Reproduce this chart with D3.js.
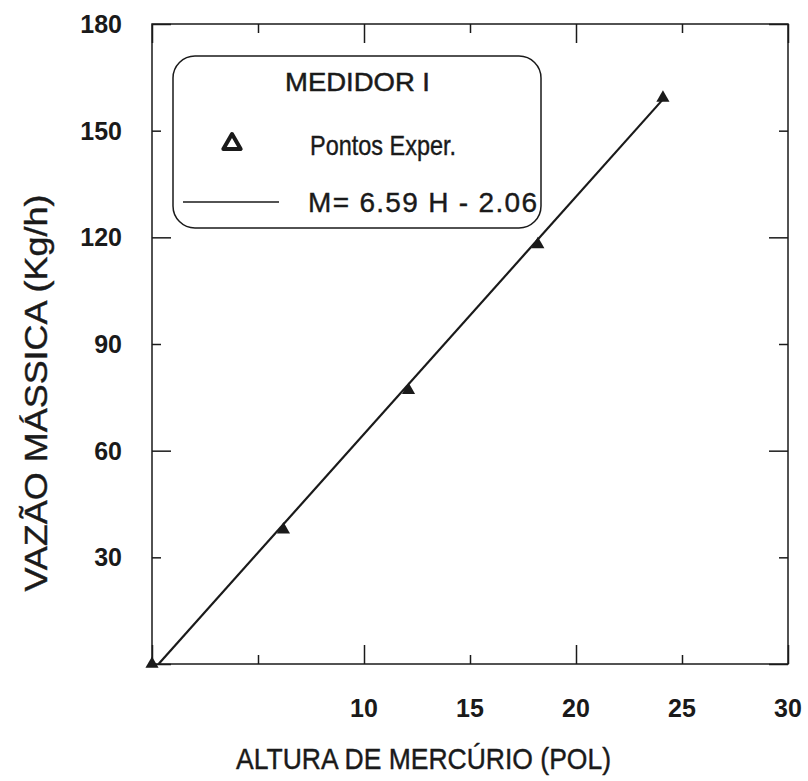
<!DOCTYPE html>
<html>
<head>
<meta charset="utf-8">
<script src="https://cdn.jsdelivr.net/npm/d3@7"></script>
<style>
  body { margin: 0; background: #fff; }
  svg { display: block; font-family: "Liberation Sans", Arial, sans-serif; }
</style>
</head>
<body>
<svg id="chart" width="808" height="781"></svg>
<script>
// ---- data ----
const pointsH = [0, 6.2, 12.1, 18.2, 24.1];
const pointsM = [0, 37.8, 77.0, 118.0, 159.2];
const fitH = [0.31, 24.1];
const fitM = [0, 158.8];
const xTicks = [0, 5, 10, 15, 20, 25, 30];
const xMajor = [0, 10, 20, 30];
const xLabels = [10, 15, 20, 25, 30];
const yTicks = [0, 30, 60, 90, 120, 150, 180];
const yMajor = [0, 60, 120, 180];
const yLabels = [30, 60, 90, 120, 150, 180];
const legendTitle = "MEDIDOR I";
const legendPoints = "Pontos Exper.";
const legendLine = "M= 6.59 H - 2.06";
const xTitle = "ALTURA DE MERCÚRIO (POL)";
const yTitle = "VAZÃO MÁSSICA (Kg/h)";

// ---- layout ----
const svg = d3.select("#chart");
const L = 152, R = 788, T = 24, B = 664;
const x = d3.scaleLinear().domain([0, 30]).range([L, R]);
const y = d3.scaleLinear().domain([0, 180]).range([B, T]);
const ink = "#1a1a1a";
const majorLen = 19, minorLen = 9;

// frame
svg.append("rect").attr("x", L).attr("y", T).attr("width", R - L).attr("height", B - T)
  .attr("fill", "none").attr("stroke", ink).attr("stroke-width", 1.5);

function styleAxis(g) {
  g.select(".domain").remove();
  g.selectAll(".tick text").remove();
  g.selectAll(".tick line").attr("stroke", ink).attr("stroke-width", 1.5);
  return g;
}

const gB = svg.append("g").attr("transform", `translate(0,${B})`)
  .call(d3.axisBottom(x).tickValues(xTicks).tickFormat(""));
gB.selectAll(".tick line").attr("y2", d => -(xMajor.includes(d) ? majorLen : minorLen));
styleAxis(gB);
const gT = svg.append("g").attr("transform", `translate(0,${T})`)
  .call(d3.axisTop(x).tickValues(xTicks).tickFormat(""));
gT.selectAll(".tick line").attr("y2", d => (xMajor.includes(d) ? majorLen : minorLen));
styleAxis(gT);
const gL = svg.append("g").attr("transform", `translate(${L},0)`)
  .call(d3.axisLeft(y).tickValues(yTicks).tickFormat(""));
gL.selectAll(".tick line").attr("x2", d => (yMajor.includes(d) ? majorLen : minorLen));
styleAxis(gL);
const gR = svg.append("g").attr("transform", `translate(${R},0)`)
  .call(d3.axisRight(y).tickValues(yTicks).tickFormat(""));
gR.selectAll(".tick line").attr("x2", d => -(yMajor.includes(d) ? majorLen : minorLen));
styleAxis(gR);

// tick labels
svg.append("g").selectAll("text").data(xLabels).join("text")
  .attr("x", d => x(d)).attr("y", 717)
  .attr("text-anchor", "middle").attr("font-size", 25).attr("font-weight", "bold")
  .attr("fill", ink).text(d => d);
svg.append("g").selectAll("text").data(yLabels).join("text")
  .attr("x", 122).attr("y", d => y(d)).attr("dy", "0.36em")
  .attr("text-anchor", "end").attr("font-size", 25).attr("font-weight", "bold")
  .attr("fill", ink).text(d => d);

// axis titles
svg.append("text").attr("x", 236).attr("y", 769)
  .attr("font-size", 29).attr("fill", ink)
  .attr("stroke", ink).attr("stroke-width", 0.4)
  .attr("textLength", 375).attr("lengthAdjust", "spacingAndGlyphs").text(xTitle);
svg.append("text").attr("transform", `translate(47,393) rotate(-90)`)
  .attr("text-anchor", "middle").attr("font-size", 32).attr("fill", ink)
  .attr("stroke", ink).attr("stroke-width", 0.4)
  .attr("textLength", 397).attr("lengthAdjust", "spacingAndGlyphs").text(yTitle);

// fit line
const line = d3.line().x(d => x(d[0])).y(d => y(d[1]));
svg.append("path").datum(fitH.map((h, i) => [h, fitM[i]]))
  .attr("d", line).attr("fill", "none").attr("stroke", ink).attr("stroke-width", 2.2);

// points (filled triangles)
const tri = d3.symbol().type(d3.symbolTriangle).size(75);
svg.append("g").selectAll("path").data(pointsH.map((h, i) => [h, pointsM[i]])).join("path")
  .attr("transform", d => `translate(${x(d[0])},${y(d[1])})`)
  .attr("d", tri).attr("fill", ink);

// legend
const lg = svg.append("g");
lg.append("rect").attr("x", 173).attr("y", 56).attr("width", 368).attr("height", 172)
  .attr("rx", 22).attr("ry", 22).attr("fill", "#fff").attr("stroke", ink).attr("stroke-width", 1.5);
lg.append("text").attr("x", 285).attr("y", 91)
  .attr("font-size", 26.5).attr("fill", ink).attr("stroke", ink).attr("stroke-width", 0.5)
  .attr("textLength", 145).attr("lengthAdjust", "spacingAndGlyphs").text(legendTitle);
lg.append("path").attr("transform", "translate(232,144)")
  .attr("d", d3.symbol().type(d3.symbolTriangle).size(130)())
  .attr("fill", "#fff").attr("stroke", ink).attr("stroke-width", 4).attr("stroke-linejoin", "round");
lg.append("text").attr("x", 310).attr("y", 155).attr("font-size", 28).attr("fill", ink)
  .attr("stroke", ink).attr("stroke-width", 0.4)
  .attr("textLength", 146).attr("lengthAdjust", "spacingAndGlyphs").text(legendPoints);
lg.append("line").attr("x1", 183).attr("x2", 279).attr("y1", 202).attr("y2", 202)
  .attr("stroke", ink).attr("stroke-width", 1.5);
lg.append("text").attr("x", 308).attr("y", 212).attr("font-size", 28).attr("fill", ink)
  .attr("stroke", ink).attr("stroke-width", 0.4)
  .attr("textLength", 229).attr("lengthAdjust", "spacing").text(legendLine);
</script>
</body>
</html>
